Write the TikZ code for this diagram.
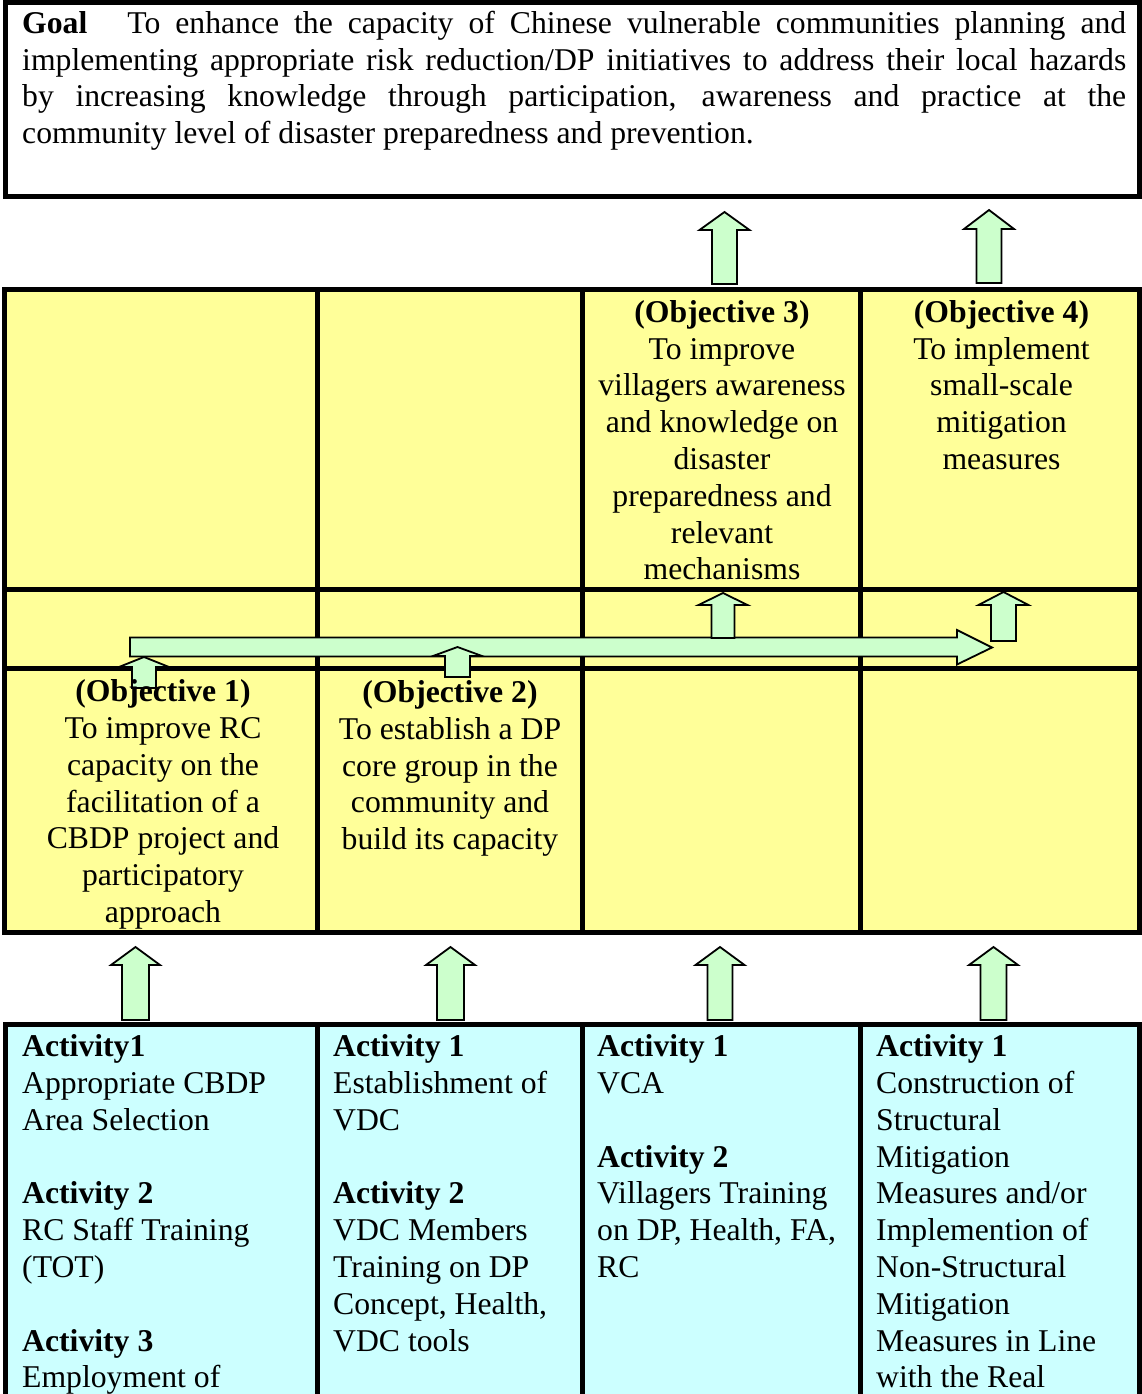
\documentclass[tikz,border=0pt]{standalone}
\usepackage{fontspec}
\setmainfont{Liberation Serif}
\definecolor{yel}{HTML}{FFFF99}
\definecolor{cya}{HTML}{CCFFFF}
\definecolor{arr}{HTML}{CCFFCC}
\hbadness=10000 \hfuzz=50pt
\newcommand\uparr[7]{%
  \coordinate (#1) at (#2,#4);
  \draw[blockarrow] (#2,#3) -- (#2+#6,#4) -- (#2+#7,#4) -- (#2+#7,#5) -- (#2-#7,#5) -- (#2-#7,#4) -- (#2-#6,#4) -- cycle;}
\begin{document}
\begin{tikzpicture}[x=1pt,y=-1pt,
  blockarrow/.style={fill=arr, draw=black, line width=1.8pt, line join=miter},
  gridline/.style={line width=5pt, draw=black},
  txt/.style={inner sep=0pt, anchor=base, font=\fontsize{31.7}{36.8}\selectfont}]
\useasboundingbox (0,0) rectangle (1142,1394);
\fill[white] (0,0) rectangle (1142,1394);
% goal box
\draw[gridline] (5.5,2.5) rectangle (1139.5,196.5);
\node[txt, anchor=base west] (goal) at (22,33.3) {\parbox[t]{1104pt}{%
\makebox[1104pt][s]{\textbf{Goal}\hspace*{40pt}To enhance the capacity of Chinese vulnerable communities planning and}\\
\makebox[1104pt][s]{implementing appropriate risk reduction/DP initiatives to address their local hazards}\\
\makebox[1104pt][s]{by increasing knowledge through participation, awareness and practice at the}\\
community level of disaster preparedness and prevention.}};
% objectives grid
\fill[yel] (4.5,289) rectangle (1139,932.5);
\draw[gridline] (4.5,289) rectangle (1139,932.5);
\draw[gridline] (4.5,589.5) -- (1139,589.5);
\draw[gridline] (4.5,668.5) -- (1139,668.5);
\foreach \x in {317.5,582,860.5} \draw[gridline] (\x,289) -- (\x,932.5);
% activities table
\fill[cya] (5.5,1024.5) rectangle (1139.5,1400);
\draw[gridline] (5.5,1400) -- (5.5,1024.5) -- (1139.5,1024.5) -- (1139.5,1400);
\foreach \x in {317.5,582,860.5} \draw[gridline] (\x,1024.5) -- (\x,1400);
% arrows to goal
\uparr{g3}{724.5}{212}{230}{284}{25}{12.5}
\uparr{g4}{989}{210}{229}{283}{25}{12.5}
% big horizontal arrow
\draw[blockarrow] (130,637.5) coordinate (hs) -- (957,637.5) -- (957,630) -- (992,647.5) coordinate (he) -- (957,664.5) -- (957,656.5) -- (130,656.5) -- cycle;
% small arrows in middle row
\uparr{m3}{723}{593}{605}{638}{24.5}{11.5}
\uparr{m4}{1003.5}{592}{605}{641}{25}{12.5}
\uparr{m1}{144}{657}{667}{688}{25}{12}
\uparr{m2}{457.5}{647}{656}{677}{24.5}{12.5}
% arrows from activities
\uparr{a1}{135.5}{947}{965}{1020}{24.5}{13.5}
\uparr{a2}{450.5}{947}{965}{1020}{24.5}{13.5}
\uparr{a3}{720}{947}{965}{1020}{24.5}{12.5}
\uparr{a4}{993.5}{947}{965}{1020}{24.5}{13}
% objective texts
\node[txt] (o3) at (722,322.3) {\parbox[t]{272pt}{\centering\textbf{(Objective 3)}\\To improve\\villagers awareness\\and knowledge on\\disaster\\preparedness and\\relevant\\mechanisms}};
\node[txt] (o4) at (1001.5,322.3) {\parbox[t]{272pt}{\centering\textbf{(Objective 4)}\\To implement\\small-scale\\mitigation\\measures}};
\node[txt] (o1) at (163,701.7) {\parbox[t]{305pt}{\centering\textbf{(Objective 1)}\\To improve RC\\capacity on the\\facilitation of a\\CBDP project and\\participatory\\approach}};
\node[txt] (o2) at (450,702.5) {\parbox[t]{260pt}{\centering\textbf{(Objective 2)}\\To establish a DP\\core group in the\\community and\\build its capacity}};
% activity texts
\node[txt, anchor=base west] (c1) at (22,1056.7) {\parbox[t]{290pt}{\textbf{Activity1}\\Appropriate CBDP\\Area Selection\\\mbox{}\\\textbf{Activity 2}\\RC Staff Training\\(TOT)\\\mbox{}\\\textbf{Activity 3}\\Employment of}};
\node[txt, anchor=base west] (c2) at (333,1056.7) {\parbox[t]{245pt}{\textbf{Activity 1}\\Establishment of\\VDC\\\mbox{}\\\textbf{Activity 2}\\VDC Members\\Training on DP\\Concept, Health,\\VDC tools}};
\node[txt, anchor=base west] (c3) at (597,1056.7) {\parbox[t]{260pt}{\textbf{Activity 1}\\VCA\\\mbox{}\\\textbf{Activity 2}\\Villagers Training\\on DP, Health, FA,\\RC}};
\node[txt, anchor=base west] (c4) at (876,1056.7) {\parbox[t]{260pt}{\textbf{Activity 1}\\Construction of\\Structural\\Mitigation\\Measures and/or\\Implemention of\\Non-Structural\\Mitigation\\Measures in Line\\with the Real}};
\end{tikzpicture}
\end{document}
